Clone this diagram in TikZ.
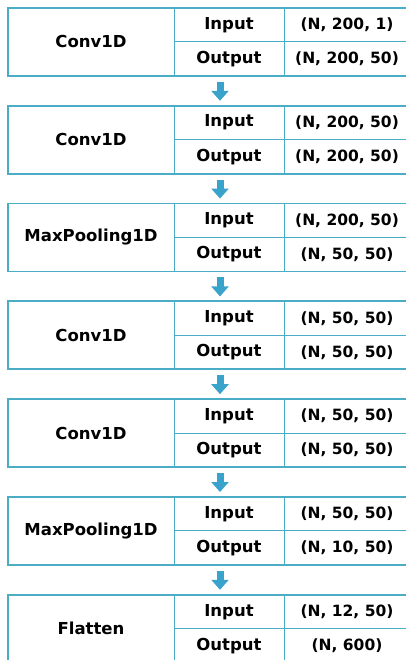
\documentclass[tikz,border=0pt]{standalone}
\usepackage{fontspec}
\setmainfont{DejaVu Sans}
\usepackage{tikz}
\usetikzlibrary{arrows.meta}
\definecolor{gridblue}{HTML}{4BACC6}
\definecolor{flowblue}{HTML}{3AA3CB}
\tikzstyle{layerbox} = [draw=gridblue, line width=1.8pt, rectangle,
    minimum width=403pt, minimum height=68pt, inner sep=0pt]
\tikzstyle{gridline} = [draw=gridblue, line width=1pt]
\tikzstyle{celltext} = [text=black, inner sep=0pt, font=\bfseries\fontsize{16.5}{18}\selectfont]
\tikzstyle{shapetext} = [text=black, inner sep=0pt, font=\bfseries\fontsize{15.5}{18}\selectfont]
\tikzstyle{flow} = [draw=flowblue, line width=7pt, -{Triangle[width=17pt,length=10pt]},
    shorten <=5pt, shorten >=4pt]

\begin{document}
\begin{tikzpicture}
\path[use as bounding box, clip] (0,0) rectangle (406pt,-660pt);
\foreach \i/\lname/\lin/\lout in {0/Conv1D/{(N, 200, 1)}/{(N, 200, 50)},
    1/Conv1D/{(N, 200, 50)}/{(N, 200, 50)},
    2/MaxPooling1D/{(N, 200, 50)}/{(N, 50, 50)},
    3/Conv1D/{(N, 50, 50)}/{(N, 50, 50)},
    4/Conv1D/{(N, 50, 50)}/{(N, 50, 50)},
    5/MaxPooling1D/{(N, 50, 50)}/{(N, 10, 50)},
    6/Flatten/{(N, 12, 50)}/{(N, 600)}}{
    \pgfmathsetmacro\ytop{-(7+97.8*\i)}
    \node[layerbox, anchor=north west] (layer\i) at (7pt,\ytop pt) {};
    \draw[gridline] ([xshift=167pt]layer\i.north west) -- ([xshift=167pt]layer\i.south west);
    \draw[gridline] ([xshift=277pt]layer\i.north west) -- ([xshift=277pt]layer\i.south west);
    \draw[gridline] ([xshift=167pt]layer\i.west) -- (layer\i.east);
    \node[celltext] (name\i) at ([xshift=84pt]layer\i.west) {\lname};
    \node[celltext] (in\i) at ([xshift=222pt,yshift=17pt]layer\i.west) {Input};
    \node[celltext] (out\i) at ([xshift=222pt,yshift=-17pt]layer\i.west) {Output};
    \node[shapetext] (inshape\i) at ([xshift=340pt,yshift=17pt]layer\i.west) {\lin};
    \node[shapetext] (outshape\i) at ([xshift=340pt,yshift=-17pt]layer\i.west) {\lout};
}
% arrows between layers
\foreach \i [evaluate=\i as \j using int(\i+1)] in {0,...,5}
    \draw[flow] ([xshift=213pt]layer\i.south west) -- ([xshift=213pt]layer\j.north west);
\end{tikzpicture}
\end{document}
